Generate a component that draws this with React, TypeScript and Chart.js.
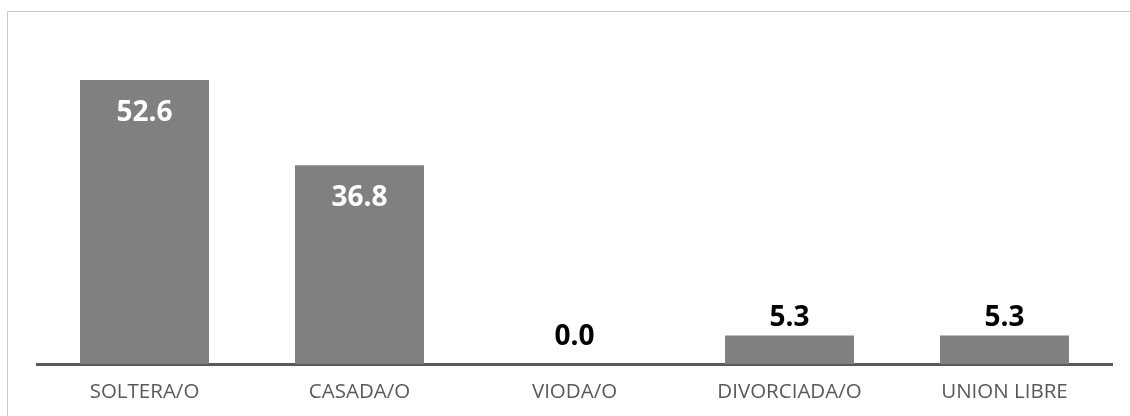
import React, { useEffect, useRef } from "react";
import { Chart, registerables } from "chart.js";

Chart.register(...registerables);

const categories = ["SOLTERA/O", "CASADA/O", "VIODA/O", "DIVORCIADA/O", "UNION LIBRE"];
const values = [52.6, 36.8, 0.0, 5.3, 5.3];
const valueLabels = ["52.6", "36.8", "0.0", "5.3", "5.3"];

// Values above this are labelled inside the bar, smaller ones above it.
const INSIDE_THRESHOLD = 20;

const valueLabelPlugin = {
  id: "valueLabels",
  afterDatasetsDraw(chart: any) {
    const { ctx } = chart;
    const meta = chart.getDatasetMeta(0);
    ctx.save();
    ctx.font = "bold 28px 'Open Sans'";
    ctx.textAlign = "center";
    meta.data.forEach((bar: any, i: number) => {
      const v = values[i];
      const text = valueLabels[i];
      if (v >= INSIDE_THRESHOLD) {
        ctx.fillStyle = "#ffffff";
        ctx.textBaseline = "middle";
        ctx.fillText(text, bar.x, bar.y + 33);
      } else {
        ctx.fillStyle = "#000000";
        ctx.textBaseline = "alphabetic";
        const top = Math.min(bar.y, bar.base - 10);
        ctx.fillText(text, bar.x, top - 9);
      }
    });
    ctx.restore();
  },
};

const frameBorderPlugin = {
  id: "frameBorder",
  beforeDraw(chart: any) {
    const { ctx, width, height } = chart;
    ctx.save();
    ctx.strokeStyle = "#c8c8c8";
    ctx.lineWidth = 1;
    ctx.beginPath();
    ctx.moveTo(7.5, height);
    ctx.lineTo(7.5, 11.5);
    ctx.lineTo(width, 11.5);
    ctx.stroke();
    ctx.restore();
  },
};

export default function App() {
  const canvasRef = useRef<HTMLCanvasElement | null>(null);

  useEffect(() => {
    document.body.style.margin = "0";
    document.body.style.overflow = "hidden";
    const canvas = canvasRef.current;
    if (!canvas) return;
    const chart = new Chart(canvas, {
      type: "bar",
      data: {
        labels: categories,
        datasets: [
          {
            data: values,
            backgroundColor: "#808080",
            borderWidth: 0,
            categoryPercentage: 1,
            barPercentage: 0.6,
          },
        ],
      },
      options: {
        responsive: false,
        animation: false,
        layout: { padding: { left: 37, right: 18, top: 40, bottom: 0 } },
        plugins: {
          legend: { display: false },
          tooltip: { enabled: false },
          title: { display: false },
        },
        scales: {
          x: {
            grid: { display: false, drawTicks: false },
            border: { display: true, color: "#595959", width: 3 },
            ticks: {
              color: "#595959",
              font: { family: "'Open Sans'", size: 20.5 },
              padding: 16,
              maxRotation: 0,
            },
            afterFit(scale: any) {
              scale.height = 52;
            },
          },
          y: {
            display: false,
            min: 0,
            max: 60,
          },
        },
      },
      plugins: [frameBorderPlugin, valueLabelPlugin],
    });
    return () => chart.destroy();
  }, []);

  return (
    <div style={{ width: 1130, height: 416 }}>
      <canvas ref={canvasRef} width={1130} height={416} style={{ display: "block" }} />
    </div>
  );
}
